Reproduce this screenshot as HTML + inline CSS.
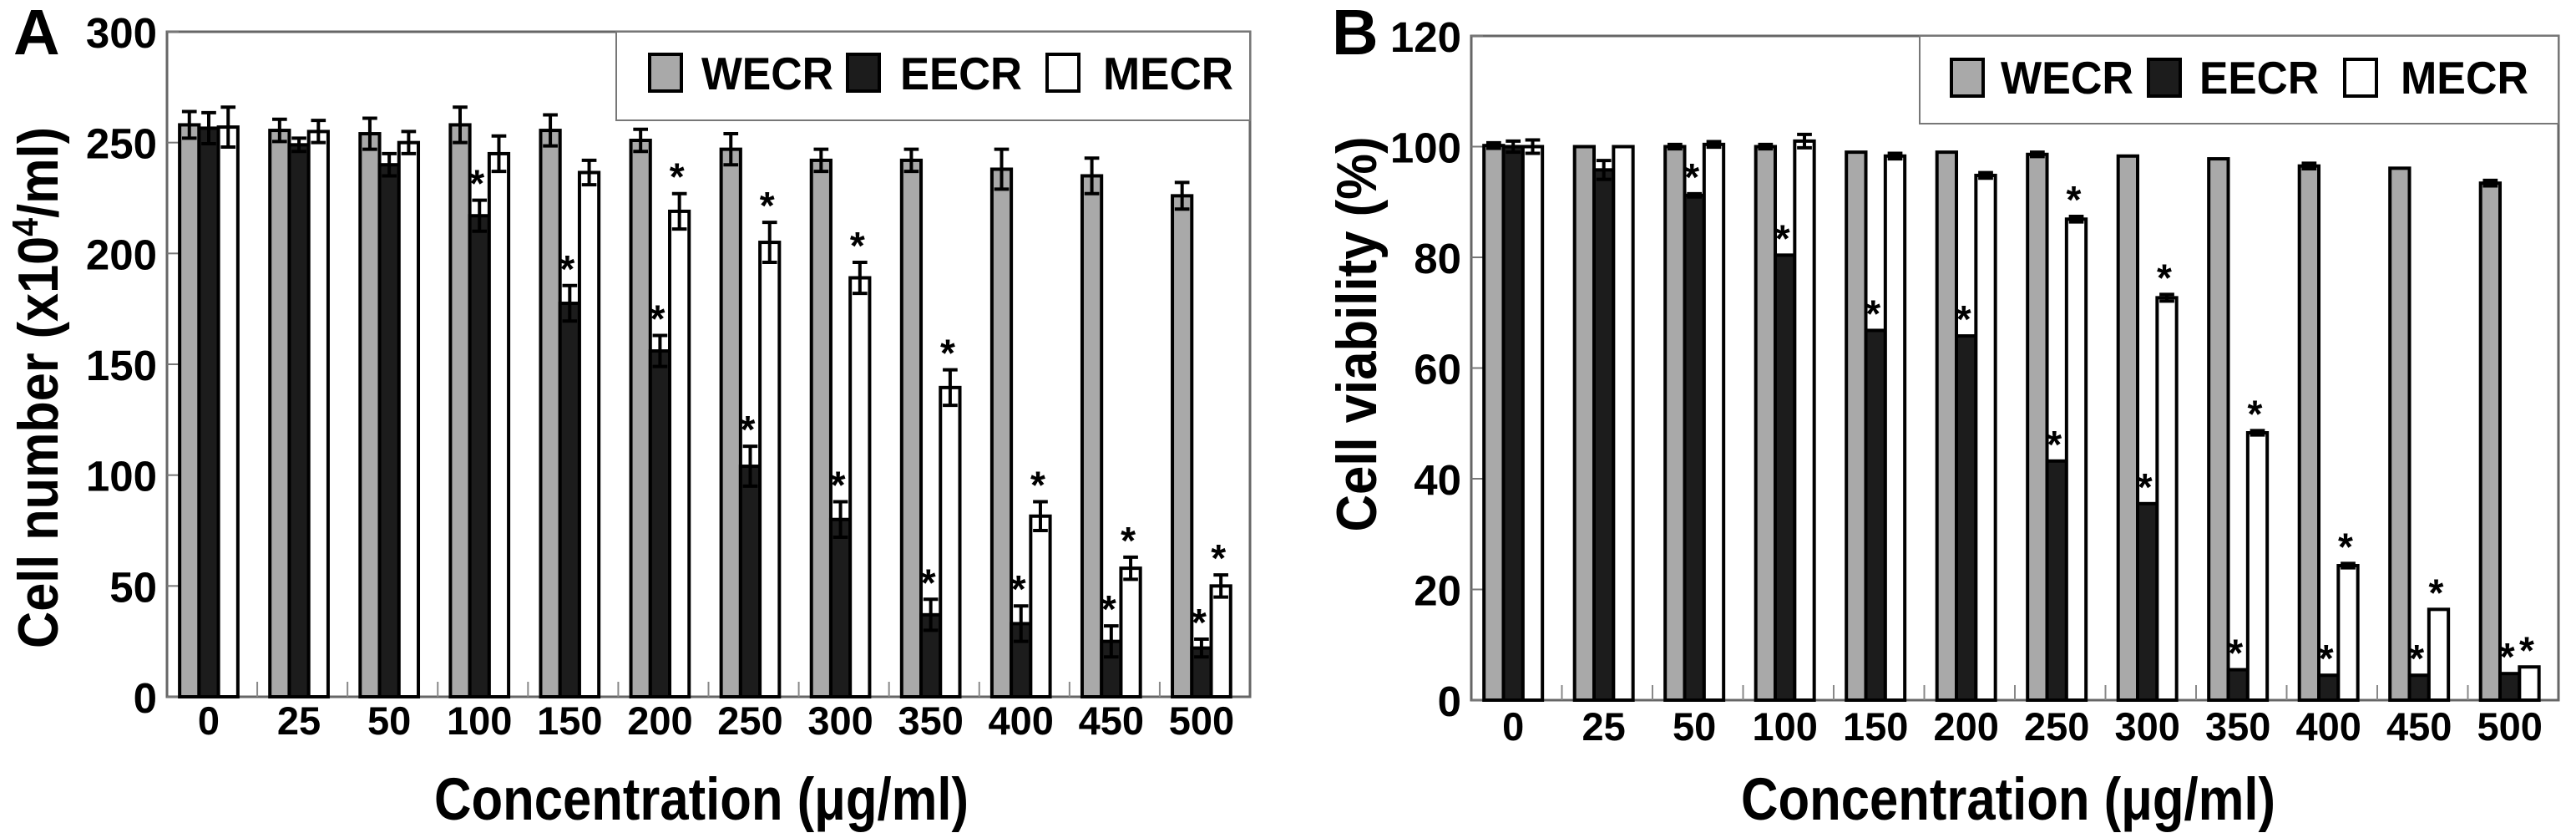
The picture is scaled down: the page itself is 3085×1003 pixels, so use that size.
<!DOCTYPE html>
<html><head><meta charset="utf-8"><style>
html,body{margin:0;padding:0;background:#fff;}
svg{display:block;font-family:"Liberation Sans",Arial,sans-serif;font-weight:bold;}
</style></head><body>
<svg id="chart" width="3085" height="1003" viewBox="0 0 3085 1003" xmlns="http://www.w3.org/2000/svg"></svg>
<script>
const categories = ["0","25","50","100","150","200","250","300","350","400","450","500"];
const seriesNames = ["WECR","EECR","MECR"];
const aWECR = [258,255.5,254,258,255.5,251,247,242,242,238,235,226];
const aEECR = [256.5,249,240,217,177.5,156,104,80,37,33,25,22];
const aMECR = [257,255,250,245,236.5,219,205,189,139.5,81.5,58,50];
const aErrW = [6,5,7,8,7,5,7,5,5,9,8,6];
const aErrE = [7,3,5,7,8,7,9,8,7,8,7,4];
const aErrM = [9,5,5,8,5.5,8,9,7,8,6.5,5,5];
const aStarE = [0,0,0,1,1,1,1,1,1,1,1,1];
const aStarM = [0,0,0,0,0,1,1,1,1,1,1,1];
const aTicks = [0,50,100,150,200,250,300];
const bWECR = [100.2,100,100,100,99,99,98.6,98.3,97.8,96.5,96.1,93.4];
const bEECR = [100,95.8,91.2,80.4,66.8,65.8,43.2,35.5,5.5,4.5,4.5,4.8];
const bMECR = [100,100,100.4,101,98.3,94.8,86.9,72.7,48.3,24.3,16.4,6];
const bErrW = [0.5,0,0.4,0.4,0,0,0.4,0,0,0.5,0,0.5];
const bErrE = [1,1.7,0.3,0,0,0,0,0,0,0,0,0];
const bErrM = [1.2,0,0.5,1.2,0.5,0.5,0.5,0.6,0.4,0.4,0,0];
const bStarE = [0,0,1,1,1,1,1,1,1,1,1,1];
const bStarM = [0,0,0,0,0,0,1,1,1,1,1,1];
const bTicks = [0,20,40,60,80,100,120];

const NS="http://www.w3.org/2000/svg";
const svg=document.getElementById('chart');
function mk(tag,attrs,parent){const e=document.createElementNS(NS,tag);for(const k in attrs)e.setAttribute(k,attrs[k]);(parent||svg).appendChild(e);return e;}
const fills=["#a9a9a9","#1c1c1c","#ffffff"];

function panel(cfg){
  const g=mk('g',{});
  
  
  const L=cfg.left,R=cfg.right,T=cfg.top,B=cfg.bottom;
  const C=(R-L)/categories.length;
  const y=v=>B-(v/cfg.max)*(B-T);
  // frame
  const fr=mk('rect',{x:L,y:T,width:R-L,height:B-T,fill:'none',stroke:'#666','stroke-width':3},g);
  
  
  // y ticks
  cfg.ticks.forEach(t=>{
    const ln=mk('line',{x1:L,x2:L+14,y1:y(t),y2:y(t),stroke:'#777','stroke-width':2},g);
    
    
    const tx=mk('text',{x:L-12,y:y(t)+19,'text-anchor':'end','font-size':51},g);
    tx.textContent=t;
    
    
  });
  // x category ticks
  for(let k=1;k<categories.length;k++){
    const ln=mk('line',{x1:L+k*C,x2:L+k*C,y1:B,y2:B-18,stroke:'#888','stroke-width':2},g);
    
    
  }
  const bw=C*0.215, off=C*0.14;
  categories.forEach((cat,i)=>{
    const x0=L+i*C+off;
    [cfg.w,cfg.e,cfg.m].forEach((arr,s)=>{
      const bx=x0+s*bw, v=arr[i];
      const r=mk('rect',{x:bx,y:y(v),width:bw,height:B-y(v),fill:fills[s],stroke:'#000','stroke-width':4},g);
      
      
      const err=[cfg.ew,cfg.ee,cfg.em][s][i];
      const cx=bx+bw/2;
      let topY=y(v);
      if(err>0){
        topY=y(v+err);
        const eb=mk('path',{d:`M${cx},${y(v-err)}V${topY}M${cx-bw*0.38},${topY}H${cx+bw*0.38}M${cx-bw*0.38},${y(v-err)}H${cx+bw*0.38}`,stroke:'#000','stroke-width':4,fill:'none'},g);
        
        
      }
      const star=(s===1?cfg.se:(s===2?cfg.sm:null));
      if(star&&star[i]){
        const st=mk('text',{x:cx-3,y:topY-4,'text-anchor':'middle','font-size':46},g);
        st.textContent='*';
        
        
      }
    });
    const tl=mk('text',{x:x0+1.5*bw,y:cfg.tickBase,'text-anchor':'middle','font-size':47},g);
    tl.textContent=cat;
    
    
  });
  // legend
  const lg=mk('g',{},g);
  
  
  const lb=mk('rect',{x:cfg.lg.x,y:T,width:R-cfg.lg.x,height:cfg.lg.h,fill:'#fff',stroke:'#777','stroke-width':2},lg);
  
  
  seriesNames.forEach((n,s)=>{
    const sw=mk('rect',{x:cfg.lg.sw[s],y:cfg.lg.sy,width:38,height:44,fill:fills[s],stroke:'#000','stroke-width':4},lg);
    
    
    const t=mk('text',{x:cfg.lg.tx[s],y:cfg.lg.ty,'font-size':55,textLength:cfg.lg.tw[s],lengthAdjust:'spacingAndGlyphs'},lg);
    t.textContent=n;
    
    
  });
  // titles
  const xt=mk('text',{x:cfg.xt.x,y:981,'text-anchor':'middle','font-size':71,textLength:640,lengthAdjust:'spacingAndGlyphs'},g);
  xt.textContent='Concentration (\u03bcg/ml)';
  
  
  const yt=mk('text',{x:0,y:0,'text-anchor':'middle','font-size':68,textLength:cfg.yt.len,lengthAdjust:'spacingAndGlyphs',transform:`translate(${cfg.yt.x},${cfg.yt.y}) rotate(-90)`},g);
  
  
  if(cfg.id==='a'){
    yt.appendChild(document.createTextNode('Cell number (x10'));
    const sup=mk('tspan',{'font-size':44,dy:-24},yt);sup.textContent='4';
    const rest=mk('tspan',{dy:24},yt);rest.textContent='/ml)';
  } else yt.textContent='Cell viability (%)';
  const pl=mk('text',{x:cfg.letter,y:65,'font-size':77},g);
  pl.textContent=cfg.id.toUpperCase();
  
  
}

panel({id:'a',left:200,right:1497,top:38,bottom:834,max:300,ticks:aTicks,
  w:aWECR,e:aEECR,m:aMECR,ew:aErrW,ee:aErrE,em:aErrM,se:aStarE,sm:aStarM,tickBase:879,
  lg:{x:738,h:106,sy:65,sw:[778,1015,1254],tx:[840,1078,1321],tw:[158,146,156],ty:107},
  xt:{x:840},yt:{x:69,y:464,len:624},letter:16});
panel({id:'b',left:1762,right:3064,top:43,bottom:838,max:120,ticks:bTicks,
  w:bWECR,e:bEECR,m:bMECR,ew:bErrW,ee:bErrE,em:bErrM,se:bStarE,sm:bStarM,tickBase:886,
  lg:{x:2299,h:105,sy:71,sw:[2337,2573,2808],tx:[2396,2634,2875],tw:[159,143,153],ty:112},
  xt:{x:2405},yt:{x:1648,y:400,len:473},letter:1595});
</script>
</body></html>
